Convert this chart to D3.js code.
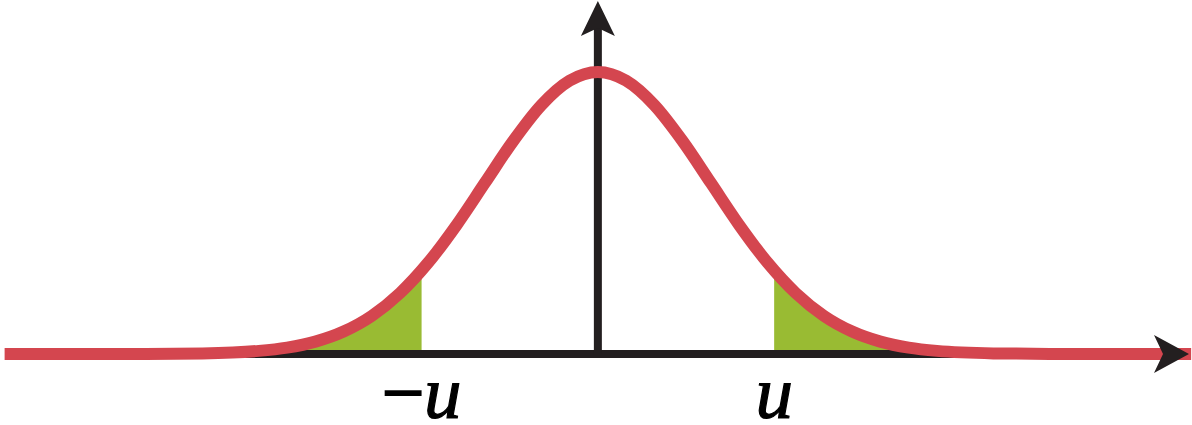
<!DOCTYPE html>
<html>
<head>
<meta charset="utf-8">
<script src="https://cdn.jsdelivr.net/npm/d3@7/dist/d3.min.js"></script>
<style>
html,body{margin:0;padding:0;background:#fff;}
svg{display:block;}
</style>
</head>
<body>
<svg id="chart" width="1192" height="425"></svg>
<script>
// Density curve (standardised x, relative height)
const curveX = [-5.25,-5,-4.5,-4,-3.5,-3,-2.75,-2.5,-2.25,-2,-1.75,-1.5,-1.25,-1,-0.75,-0.5,-0.25,0,0.25,0.5,0.75,1,1.25,1.5,1.75,2,2.25,2.5,2.75,3,3.5,4,4.5,5,5.25];
const curveY = [0,0,0,0.0003,0.0022,0.0111,0.0228,0.0439,0.0796,0.1353,0.2163,0.3247,0.4578,0.6065,0.7548,0.8825,0.9692,1,0.9692,0.8825,0.7548,0.6065,0.4578,0.3247,0.2163,0.1353,0.0796,0.0439,0.0228,0.0111,0.0022,0.0003,0,0,0];
const criticalU = 1.56;
const tickLabels = ["\u2212u", "u"];
const tickValues = [-criticalU, criticalU];

const svg = d3.select("#chart");
const x = d3.scaleLinear().domain([-5.22, 5.24]).range([8, 1190]);
const y = d3.scaleLinear().domain([0, 1]).range([354, 72]);

const pts = curveX.map((v, i) => [v, curveY[i]]);
const line = d3.line().x(d => x(d[0])).y(d => y(d[1])).curve(d3.curveMonotoneX);
const area = d3.area().x(d => x(d[0])).y0(y(0)).y1(d => y(d[1])).curve(d3.curveMonotoneX);

const green = "#99bb33", red = "#d4464f", dark = "#231f20";

// Green tails: area under curve clipped beyond ±u
svg.append("clipPath").attr("id", "leftTail").append("rect")
  .attr("x", 0).attr("y", 0).attr("width", x(-criticalU)).attr("height", 425);
svg.append("clipPath").attr("id", "rightTail").append("rect")
  .attr("x", x(criticalU)).attr("y", 0).attr("width", 1192 - x(criticalU)).attr("height", 425);

svg.append("path").datum(pts).attr("d", area).attr("fill", green).attr("clip-path", "url(#leftTail)");
svg.append("path").datum(pts).attr("d", area).attr("fill", green).attr("clip-path", "url(#rightTail)");

// Axes
const y0 = y(0);
svg.append("line").attr("x1", 5).attr("x2", 1175).attr("y1", y0).attr("y2", y0)
  .attr("stroke", dark).attr("stroke-width", 8);
svg.append("line").attr("x1", x(0)).attr("x2", x(0)).attr("y1", y0).attr("y2", 25)
  .attr("stroke", dark).attr("stroke-width", 8);

// Curve
svg.append("path").datum(pts).attr("d", line).attr("fill", "none")
  .attr("stroke", red).attr("stroke-width", 12).attr("stroke-linecap", "butt");

// Arrowheads
const cx = x(0);
svg.append("path")
  .attr("d", `M${cx},1 L${cx+17},36 L${cx},28 L${cx-17},36 Z`)
  .attr("fill", dark);
svg.append("path")
  .attr("d", `M1189,${y0} L1154,${y0+19} L1163,${y0} L1154,${y0-19} Z`)
  .attr("fill", dark);

// Labels
svg.selectAll("text.lbl").data(tickValues).enter().append("text")
  .attr("class", "lbl")
  .attr("x", d => x(d))
  .attr("y", 418)
  .attr("text-anchor", "middle")
  .attr("font-family", "'Liberation Serif', 'Times New Roman', serif")
  .attr("font-size", 75)
  .attr("fill", "#000")
  .attr("stroke", "#000")
  .attr("stroke-width", 1.2)
  .each(function(d, i) {
    const t = d3.select(this);
    const lab = tickLabels[i];
    if (lab.startsWith("\u2212")) {
      t.append("tspan").attr("font-style", "normal").attr("stroke-width", 2).text("\u2212");
      t.append("tspan").attr("font-style", "italic").text(lab.slice(1));
    } else {
      t.append("tspan").attr("font-style", "italic").text(lab);
    }
  });
</script>
</body>
</html>
